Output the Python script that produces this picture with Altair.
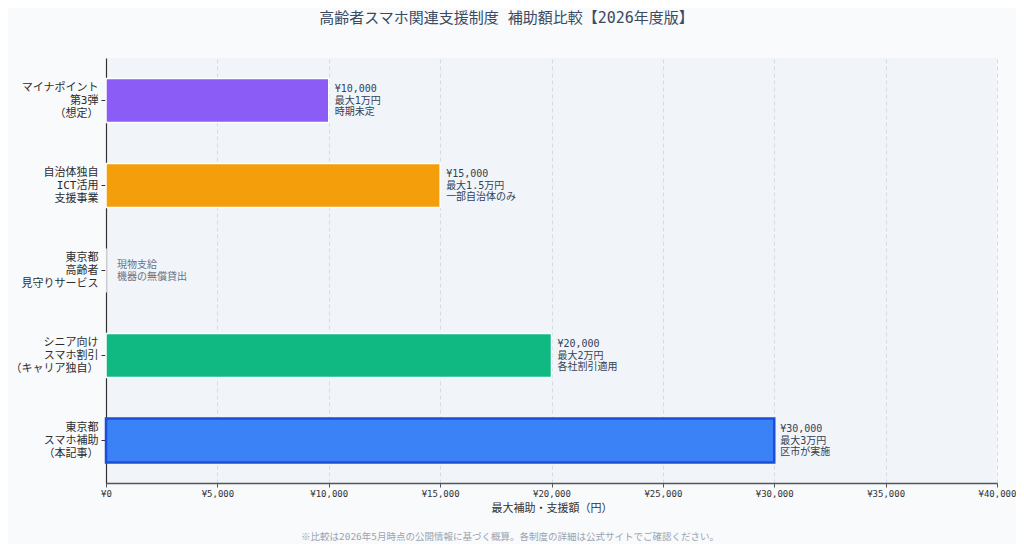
import altair as alt
import pandas as pd

categories = [
    "マイナポイント\n第3弾\n（想定）",
    "自治体独自\nICT活用\n支援事業",
    "東京都\n高齢者\n見守りサービス",
    "シニア向け\nスマホ割引\n（キャリア独自）",
    "東京都\nスマホ補助\n（本記事）",
]
amounts = [10000, 15000, 0, 20000, 30000]
note_a = ["最大1万円", "最大1.5万円", "現物支給", "最大2万円", "最大3万円"]
note_b = ["時期未定", "一部自治体のみ", "機器の無償貸出", "各社割引適用", "区市が実施"]
colors = ["#8b5cf6", "#f59e0b", "#94a3b8", "#10b981", "#3b82f6"]
strokes = ["#ffffff", "#ffffff", "#ffffff", "#ffffff", "#1d4ed8"]
stroke_w = [1.5, 1.5, 1.5, 1.5, 2.5]

labels = []
for v, a, b in zip(amounts, note_a, note_b):
    if v > 0:
        labels.append(f"¥{v:,}\n{a}\n{b}")
    else:
        labels.append(f"{a}\n{b}")

df = pd.DataFrame({
    "cat": categories,
    "amount": amounts,
    "label": labels,
    "color": colors,
    "stroke": strokes,
    "sw": stroke_w,
})

FONT = "DejaVu Sans Mono, Noto Sans CJK JP"

y_enc = alt.Y(
    "cat:N", sort=None, title=None,
    scale=alt.Scale(paddingInner=0.48, paddingOuter=0.24),
    axis=alt.Axis(
        labelExpr="split(datum.label, '\\n')",
        labelFontSize=11, labelColor="#2d2d2d", labelLineHeight=13,
        labelPadding=3, labelOffset=-13, tickSize=5, tickColor="#333333",
        domainColor="#333333", domainWidth=1.2, grid=False,
        labelFont=FONT,
    ),
)

x_enc = alt.X(
    "amount:Q", title="最大補助・支援額（円）",
    scale=alt.Scale(domain=[0, 40000], nice=False),
    axis=alt.Axis(
        values=list(range(0, 40001, 5000)),
        labelExpr="'¥' + format(datum.value, ',')",
        labelFontSize=9, labelColor="#333333", labelFont=FONT,
        titleFontSize=11, titleColor="#333333", titleFont=FONT,
        titleFontWeight="normal", titlePadding=4,
        tickSize=4, tickColor="#555555", domainColor="#555555", domainWidth=1.5,
        grid=True, gridDash=[4, 3], gridColor="#cbd5e1", gridOpacity=0.8,
        labelFlush=False,
    ),
)

bars = alt.Chart(df).mark_bar().encode(
    y=y_enc,
    x=x_enc,
    color=alt.Color("color:N", scale=None, legend=None),
    stroke=alt.Stroke("stroke:N", scale=None, legend=None),
    strokeWidth=alt.StrokeWidth("sw:Q", scale=None, legend=None),
)

txt_pos = alt.Chart(df).transform_filter("datum.amount > 0").mark_text(
    align="left", baseline="middle", dx=6, dy=-11.5, fontSize=10, lineHeight=11.5,
    lineBreak="\n", color="#334155", font=FONT,
).encode(y=alt.Y("cat:N", sort=categories), x="amount:Q", text="label:N")

txt_zero = alt.Chart(df).transform_filter("datum.amount == 0").mark_text(
    align="left", baseline="middle", dx=11, dy=-6, fontSize=10, lineHeight=12,
    lineBreak="\n", color="#64748b", font=FONT,
).encode(y=alt.Y("cat:N", sort=categories), x="amount:Q", text="label:N")

footnote = alt.Chart(pd.DataFrame({"t": ["※比較は2026年5月時点の公開情報に基づく概算。各制度の詳細は公式サイトでご確認ください。"]})).mark_text(
    align="center", baseline="middle", fontSize=9.5, color="#9ca3af", font=FONT,
).encode(text="t:N", x=alt.value(404), y=alt.value(479))

chart = alt.layer(bars, txt_pos, txt_zero, footnote).properties(
    width=891, height=425,
    autosize=alt.AutoSizeParams(type="none"),
    padding={"left": 98, "top": 50, "right": 19, "bottom": 61},
    background="#f8fafc",
    title=alt.TitleParams(
        "高齢者スマホ関連支援制度 補助額比較【2026年度版】",
        fontSize=15, color="#3b4a63", font=FONT, fontWeight="normal",
        anchor="middle", dx=-45, offset=32,
    ),
).configure_view(fill="#f1f5f9", stroke=None)

chart.save("out.html", embed_options={"renderer": "svg", "actions": False})
